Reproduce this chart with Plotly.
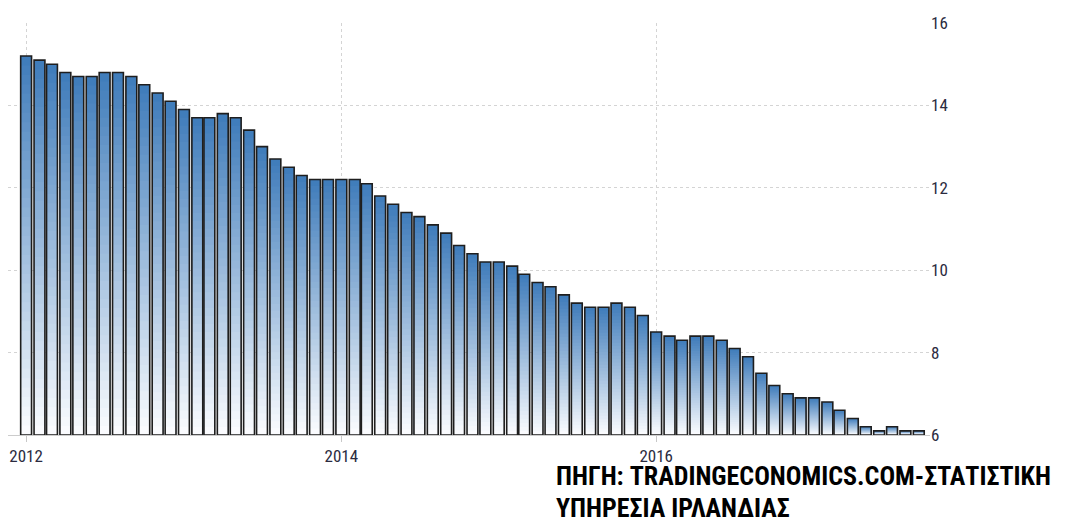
import pandas as pd
import plotly.graph_objects as go

# μηνιαία ποσοστά ανεργίας, Ιαν 2012 - Σεπ 2017
months = pd.date_range("2012-01-01", periods=69, freq="MS")
rates = [
    15.2, 15.1, 15.0, 14.8, 14.7, 14.7, 14.8, 14.8, 14.7, 14.5, 14.3, 14.1,
    13.9, 13.7, 13.7, 13.8, 13.7, 13.4, 13.0, 12.7, 12.5, 12.3, 12.2, 12.2,
    12.2, 12.2, 12.1, 11.8, 11.6, 11.4, 11.3, 11.1, 10.9, 10.6, 10.4, 10.2,
    10.2, 10.1, 9.9, 9.7, 9.6, 9.4, 9.2, 9.1, 9.1, 9.2, 9.1, 8.9,
    8.5, 8.4, 8.3, 8.4, 8.4, 8.3, 8.1, 7.9, 7.5, 7.2, 7.0, 6.9,
    6.9, 6.8, 6.6, 6.4, 6.2, 6.1, 6.2, 6.1, 6.1,
]
y_min, y_max = 6, 16
y_ticks = [6, 8, 10, 12, 14, 16]

source_line1 = "ΠΗΓΗ: TRADINGECONOMICS.COM-ΣΤΑΤΙΣΤΙΚΗ"
source_line2 = "ΥΠΗΡΕΣΙΑ ΙΡΛΑΝΔΙΑΣ"

top_rgb = (62, 123, 186)
bottom_rgb = (252, 253, 255)
n_steps = 40

narrow = "Roboto Condensed, DejaVu Sans Condensed, Liberation Sans Narrow, Arial, sans-serif"

fig = go.Figure()

# gradient: overlapping bars from base, each shorter one lighter -> no seams
heights = [r - y_min for r in rates]
for k in range(n_steps):
    t = 1 - k / n_steps
    c = tuple(round(b + (tp - b) * (t - 0.5 / n_steps)) for b, tp in zip(bottom_rgb, top_rgb))
    fig.add_trace(go.Bar(
        x=months,
        y=[h * t for h in heights],
        base=y_min,
        marker=dict(color=f"rgb{c}", line=dict(width=0)),
        hoverinfo="skip",
        showlegend=False,
    ))

# outline
fig.add_trace(go.Bar(
    x=months, y=heights, base=y_min,
    marker=dict(color="rgba(0,0,0,0)", line=dict(color="#1e1e1e", width=1.6)),
    customdata=rates, hovertemplate="%{x|%b %Y}: %{customdata}<extra></extra>",
    showlegend=False,
))

tick_font = dict(family=narrow, size=17, color="#2b2b40")
src_font = dict(family=narrow, size=26, color="black")

fig.update_layout(
    width=1067, height=517,
    margin=dict(l=0, r=145, t=15, b=90),
    paper_bgcolor="white", plot_bgcolor="white",
    barmode="overlay", bargap=0.1,
    xaxis=dict(
        type="date", range=["2011-11-20", "2017-09-27"],
        tick0="2012-01-01", dtick="M24", tickformat="%Y",
        showgrid=True, gridcolor="#d4d4d4", griddash="dot", gridwidth=1,
        ticks="outside", ticklen=6, tickcolor="#c8c8c8",
        showline=True, linecolor="#cccccc",
        tickfont=tick_font, zeroline=False,
    ),
    yaxis=dict(
        range=[y_min, y_max], side="right", tickvals=y_ticks,
        showgrid=True, gridcolor="#d4d4d4", griddash="dot", gridwidth=1,
        ticks="", tickfont=tick_font, zeroline=False, showline=False,
    ),
    annotations=[
        dict(text=f"<b>{source_line1}</b>", xref="paper", yref="paper",
             x=547 / 922, y=-0.099, xanchor="left", yanchor="middle", showarrow=False,
             borderpad=0, font=src_font),
        dict(text=f"<b>{source_line2}</b>", xref="paper", yref="paper",
             x=547 / 922, y=-0.177, xanchor="left", yanchor="middle", showarrow=False,
             borderpad=0, font=src_font),
    ],
)

fig.write_html("out.html")
